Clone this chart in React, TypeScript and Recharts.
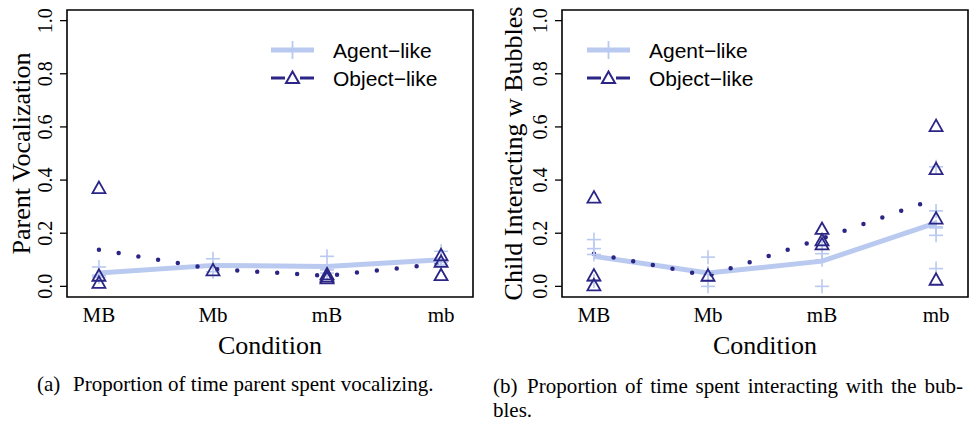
import React from "react";
import { ComposedChart, Line, Scatter, XAxis, YAxis, ReferenceArea, Legend } from "recharts";

const conditions = ["MB", "Mb", "mB", "mb"];
const yTicks = [0, 0.2, 0.4, 0.6, 0.8, 1.0];

// (a) parent vocalization
const parentAgentMean = [0.05, 0.079, 0.075, 0.1];
const parentObjectMean = [0.138, 0.065, 0.04, 0.085];
const parentAgentPoints = [[0.073, 0.035, 0.042], [0.104, 0.055], [0.113, 0.05, 0.062], [0.132, 0.1, 0.08, 0.09]];
const parentObjectPoints = [[0.37, 0.04, 0.013], [0.06], [0.045, 0.037, 0.03], [0.117, 0.092, 0.042]];

// (b) child interacting with bubbles
const childAgentMean = [0.113, 0.05, 0.095, 0.239];
const childObjectMean = [0.123, 0.04, 0.18, 0.33];
const childAgentPoints = [[0.176, 0.142, 0.12, 0.02], [0.11, 0.0, 0.02, 0.05], [0.123, 0.0, 0.155, 0.1], [0.45, 0.284, 0.224, 0.192, 0.067, 0.22]];
const childObjectPoints = [[0.334, 0.041, 0.004], [0.04], [0.216, 0.173, 0.158], [0.603, 0.441, 0.255, 0.025]];

const AGENT = "#b9c9ef";
const OBJECT = "#2b2585";
const SERIF = "Liberation Serif";
const SANS = "Liberation Sans";

const toLine = (vals: number[]) => vals.map((v, i) => ({ x: i + 1, y: v }));
const toPoints = (groups: number[][]) =>
  groups.flatMap((g, i) => g.map((v) => ({ x: i + 1, y: v })));

const PlusShape = (p: any) => {
  const { cx, cy } = p;
  return (
    <g stroke={AGENT} strokeWidth={1.6}>
      <line x1={cx - 7} x2={cx + 7} y1={cy} y2={cy} />
      <line x1={cx} x2={cx} y1={cy - 7} y2={cy + 7} />
    </g>
  );
};

const TriShape = (p: any) => {
  const { cx, cy } = p;
  return (
    <polygon
      points={`${cx},${cy - 6.5} ${cx - 6.5},${cy + 5} ${cx + 6.5},${cy + 5}`}
      fill="none"
      stroke={OBJECT}
      strokeWidth={1.8}
    />
  );
};

const LegendBox = () => (
  <svg width={220} height={60} style={{ display: "block" }}>
    <line x1={0} x2={43} y1={14} y2={14} stroke={AGENT} strokeWidth={5} />
    <line x1={21.5} x2={21.5} y1={5} y2={23} stroke={AGENT} strokeWidth={1.8} />
    <text x={62} y={21.5} style={{ fontFamily: SANS, fontSize: 21 }}>
      Agent−like
    </text>
    <line x1={0} x2={14} y1={42} y2={42} stroke={OBJECT} strokeWidth={3} />
    <line x1={29} x2={43} y1={42} y2={42} stroke={OBJECT} strokeWidth={3} />
    <polygon points="21.5,35.5 15,47 28,47" fill="none" stroke={OBJECT} strokeWidth={2} />
    <text x={62} y={49.5} style={{ fontFamily: SANS, fontSize: 21 }}>
      Object−like
    </text>
  </svg>
);

type PanelProps = {
  width: number;
  boxLeft: number;
  boxRight: number;
  titleX: number;
  yTitle: string;
  legendLeft: number;
  agentMean: number[];
  objectMean: number[];
  agentPoints: number[][];
  objectPoints: number[][];
};

function Panel(props: PanelProps) {
  const { width, boxLeft, boxRight, titleX, yTitle, legendLeft } = props;
  const height = 362;
  const boxTop = 10;
  const boxBottom = 297;
  const midY = (21 + 286) / 2;
  const midX = (boxLeft + boxRight) / 2;

  const XTick = (t: any) => (
    <text x={t.x} y={322} textAnchor="middle" fill="#000" style={{ fontFamily: SERIF, fontSize: 21 }}>
      {conditions[t.payload.value - 1]}
    </text>
  );
  const YTick = (t: any) => {
    const x = boxLeft - 15;
    return (
      <text
        x={x}
        y={t.y}
        transform={`rotate(-90 ${x} ${t.y})`}
        textAnchor="middle"
        fill="#000"
        style={{ fontFamily: SERIF, fontSize: 20 }}
      >
        {Number(t.payload.value).toFixed(1)}
      </text>
    );
  };

  return (
    <ComposedChart
      width={width}
      height={height}
      margin={{ top: boxTop, right: width - boxRight, left: boxLeft - 60, bottom: 0 }}
    >
      <XAxis
        type="number"
        dataKey="x"
        domain={[0.72, 4.28]}
        allowDataOverflow
        ticks={[1, 2, 3, 4]}
        interval={0}
        tick={XTick}
        tickLine={false}
        axisLine={false}
        height={height - boxBottom}
        label={() => (
          <text x={midX} y={354} textAnchor="middle" fill="#000" style={{ fontFamily: SERIF, fontSize: 26 }}>
            Condition
          </text>
        )}
      />
      <YAxis
        type="number"
        domain={[-0.04, 1.04]}
        allowDataOverflow
        ticks={yTicks}
        interval={0}
        width={60}
        tickSize={7}
        axisLine={false}
        tickLine={{ stroke: "#000", strokeWidth: 1.3 }}
        tick={YTick}
        label={() => (
          <text
            x={titleX}
            y={midY}
            transform={`rotate(-90 ${titleX} ${midY})`}
            textAnchor="middle"
            fill="#000"
            style={{ fontFamily: SERIF, fontSize: 26 }}
          >
            {yTitle}
          </text>
        )}
      />
      <ReferenceArea
        x1={0.72}
        x2={4.28}
        y1={-0.04}
        y2={1.04}
        fill="none"
        stroke="#000"
        strokeWidth={1.6}
        ifOverflow="visible"
      />
      <Scatter data={toPoints(props.agentPoints)} dataKey="y" shape={PlusShape} isAnimationActive={false} />
      <Line
        data={toLine(props.agentMean)}
        dataKey="y"
        type="linear"
        stroke={AGENT}
        strokeWidth={5}
        dot={false}
        isAnimationActive={false}
      />
      <Line
        data={toLine(props.objectMean)}
        dataKey="y"
        type="linear"
        stroke={OBJECT}
        strokeWidth={4.5}
        strokeDasharray="0 20"
        strokeLinecap="round"
        dot={false}
        isAnimationActive={false}
      />
      <Scatter data={toPoints(props.objectPoints)} dataKey="y" shape={TriShape} isAnimationActive={false} />
      <Legend
        layout="horizontal"
        verticalAlign="middle"
        align="center"
        content={LegendBox}
        wrapperStyle={{ position: "absolute", left: legendLeft, top: 36, width: 220, height: 60 }}
      />
    </ComposedChart>
  );
}

export default function App() {
  return (
    <div style={{ position: "absolute", left: 0, top: 0, width: 974, height: 422, background: "#fff" }}>
      <div style={{ position: "absolute", left: 0, top: 0 }}>
        <Panel
          width={487}
          boxLeft={67}
          boxRight={473}
          titleX={30}
          yTitle="Parent Vocalization"
          legendLeft={271}
          agentMean={parentAgentMean}
          objectMean={parentObjectMean}
          agentPoints={parentAgentPoints}
          objectPoints={parentObjectPoints}
        />
      </div>
      <div style={{ position: "absolute", left: 490, top: 0 }}>
        <Panel
          width={484}
          boxLeft={72}
          boxRight={478}
          titleX={32}
          yTitle="Child Interacting w Bubbles"
          legendLeft={97}
          agentMean={childAgentMean}
          objectMean={childObjectMean}
          agentPoints={childAgentPoints}
          objectPoints={childObjectPoints}
        />
      </div>
      <svg width={974} height={422} style={{ position: "absolute", left: 0, top: 0, pointerEvents: "none" }}>
        <g style={{ fontFamily: SERIF, fontSize: 21 }} fill="#000">
          <text x={37} y={391}>(a)</text>
          <text x={73} y={391}>Proportion of time parent spent vocalizing.</text>
          <text x={493} y={393}>(b)</text>
          <text x={527} y={393} textLength={436} lengthAdjust="spacing" style={{ wordSpacing: "2.4px" }}>
            Proportion of time spent interacting with the bub-
          </text>
          <text x={493} y={417}>bles.</text>
        </g>
      </svg>
    </div>
  );
}
